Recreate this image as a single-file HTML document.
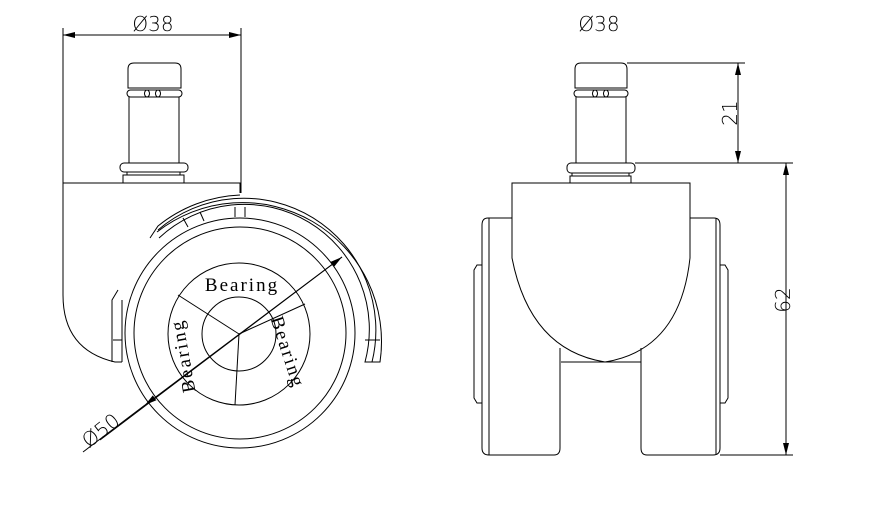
<!DOCTYPE html>
<html><head><meta charset="utf-8"><style>html,body{margin:0;padding:0;background:#fff}svg{display:block}</style></head>
<body>
<svg width="892" height="512" viewBox="0 0 892 512" xmlns="http://www.w3.org/2000/svg" fill="none" stroke="#000" stroke-width="1">
<defs>
<marker id="a" markerWidth="12" markerHeight="6" refX="12" refY="3" orient="auto" markerUnits="userSpaceOnUse"><path d="M0,0 L12,3 L0,6 Z" fill="#000" stroke="none"/></marker>
</defs>
<g font-family="DejaVu Sans, sans-serif" font-size="20" fill="#000" stroke="none" font-weight="300">
<text x="153" y="31" text-anchor="middle">Ø38</text>
<text x="599" y="31" text-anchor="middle">Ø38</text>
<text transform="translate(737,113) rotate(-90)" text-anchor="middle">21</text>
<text transform="translate(790,300) rotate(-90)" text-anchor="middle">62</text>
<text transform="translate(105,436) rotate(-38)" text-anchor="middle">Ø50</text>
</g>
<!-- left view dims -->
<line x1="63" y1="28" x2="63" y2="183"/>
<line x1="241" y1="28" x2="241" y2="193"/>
<line x1="152" y1="35" x2="63" y2="35" marker-end="url(#a)"/>
<line x1="152" y1="35" x2="241" y2="35" marker-end="url(#a)"/>
<!-- left stem -->
<path d="M128,88 V69 Q128,63 134,63 H175 Q181,63 181,69 V88 Z"/>
<rect x="127" y="90" width="55" height="7" rx="3.5"/>
<ellipse cx="147" cy="93.5" rx="2.5" ry="3.5"/><ellipse cx="158" cy="93.5" rx="2.5" ry="3.5"/>
<line x1="129" y1="97" x2="129" y2="163"/><line x1="179" y1="97" x2="179" y2="163"/>
<rect x="120" y="163" width="68" height="9" rx="4"/>
<rect x="123" y="175" width="61" height="8"/>
<line x1="127" y1="172" x2="127" y2="175"/><line x1="180" y1="172" x2="180" y2="175"/>
<!-- left body -->
<path d="M240,193 V183 H63 V295 Q63,350 115,362 H122"/>
<!-- fender -->
<path d="M112,362 V300 L118,290"/>
<path d="M157,232 A139,139 0 0 1 380,362 H365 A125,125 0 0 0 159,238"/>
<path d="M372,362 A132,132 0 0 0 158,230"/>
<path d="M150,238 L158,226 A139,139 0 0 1 240,195"/>
<line x1="122" y1="300" x2="122" y2="362"/>
<line x1="113" y1="340" x2="122" y2="340"/><line x1="365" y1="340" x2="380" y2="340"/>
<line x1="235" y1="207" x2="235" y2="217"/><line x1="245" y1="207" x2="245" y2="217"/>
<line x1="183" y1="218" x2="188" y2="227"/><line x1="200" y1="212" x2="204" y2="221"/>
<!-- wheel -->
<circle cx="240" cy="333" r="115"/>
<circle cx="240" cy="333" r="106"/>
<circle cx="239" cy="334" r="71"/>
<circle cx="239" cy="334" r="37"/>
<line x1="239" y1="334" x2="178" y2="295"/>
<line x1="239" y1="334" x2="305" y2="304"/>
<line x1="239" y1="334" x2="235" y2="405"/>
<line x1="83" y1="452" x2="145" y2="405"/>
<line x1="100" y1="440" x2="342" y2="257" marker-end="url(#a)"/>
<line x1="342" y1="257" x2="145" y2="405" marker-end="url(#a)"/>
<g font-family="Liberation Serif, serif" font-size="19" fill="#000" stroke="none" letter-spacing="2">
<text x="242" y="291" text-anchor="middle">Bearing</text>
<text transform="translate(189,355) rotate(-100)" text-anchor="middle">Bearing</text>
<text transform="translate(282,354) rotate(72)" text-anchor="middle">Bearing</text>
</g>
<!-- right view stem -->
<path d="M575,88 V69 Q575,63 581,63 H621 Q627,63 627,69 V88 Z"/>
<rect x="574" y="90" width="54" height="7" rx="3.5"/>
<ellipse cx="595" cy="93.5" rx="2.5" ry="3.5"/><ellipse cx="606" cy="93.5" rx="2.5" ry="3.5"/>
<line x1="576" y1="97" x2="576" y2="163"/><line x1="626" y1="97" x2="626" y2="163"/>
<rect x="567" y="163" width="68" height="10" rx="4"/>
<rect x="570" y="176" width="61" height="7"/>
<line x1="572" y1="173" x2="572" y2="176"/><line x1="629" y1="173" x2="629" y2="176"/>
<!-- right body -->
<path d="M512,183 H690 V258 Q680,350 605,362 Q530,350 512,258 Z"/>
<path d="M512,218 H488 Q482,218 482,225 V448 Q482,455 489,455 H554 Q560,455 560,448 V348"/>
<line x1="489" y1="218" x2="489" y2="455"/>
<path d="M482,265 H477 L474,270 V398 L477,403 H482"/>
<path d="M690,218 H714 Q720,218 720,225 V448 Q720,455 713,455 H647 Q641,455 641,448 V348"/>
<line x1="716" y1="218" x2="716" y2="455"/>
<path d="M720,265 H725 L728,270 V398 L725,403 H720"/>
<line x1="561" y1="362" x2="641" y2="362"/>
<!-- right dims -->
<line x1="627" y1="63" x2="745" y2="63"/>
<line x1="635" y1="163" x2="793" y2="163"/>
<line x1="720" y1="455" x2="793" y2="455"/>
<line x1="738" y1="113" x2="738" y2="63" marker-end="url(#a)"/>
<line x1="738" y1="113" x2="738" y2="163" marker-end="url(#a)"/>
<line x1="786" y1="300" x2="786" y2="163" marker-end="url(#a)"/>
<line x1="786" y1="300" x2="786" y2="455" marker-end="url(#a)"/>
</svg>
</body></html>
